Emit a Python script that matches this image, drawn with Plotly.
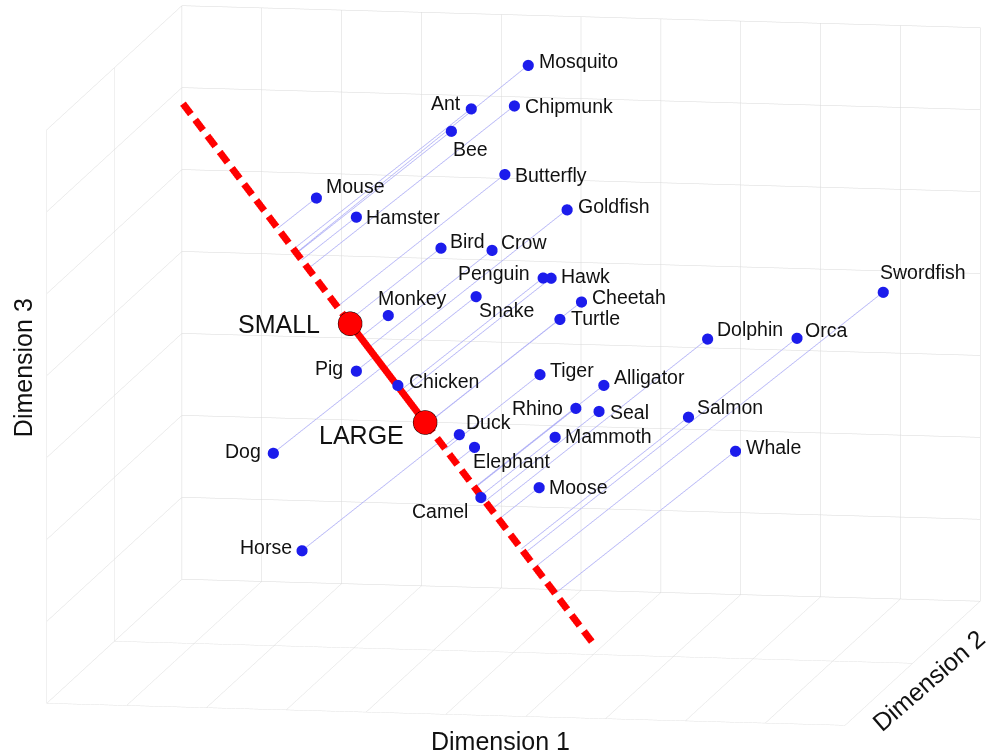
import numpy as np
import plotly.graph_objects as go

# ---- animals placed in the 3-D semantic space ----
animals = ["Mosquito", "Ant", "Chipmunk", "Bee", "Butterfly", "Mouse", "Hamster",
           "Goldfish", "Bird", "Crow", "Penguin", "Hawk", "Snake", "Cheetah",
           "Turtle", "Monkey", "Swordfish", "Dolphin", "Orca", "Pig", "Chicken",
           "Tiger", "Alligator", "Rhino", "Seal", "Salmon", "Duck", "Mammoth",
           "Elephant", "Whale", "Dog", "Moose", "Camel", "Horse"]
dim1 = [4.76, 4.47, 5.01, 4.22, 4.89, 2.53, 3.03, 5.67, 4.09, 4.73, 5.37, 5.47,
        4.53, 5.85, 5.58, 3.43, 9.63, 7.43, 8.55, 3.03, 3.55, 5.33, 6.13, 5.78,
        6.07, 7.19, 4.32, 5.52, 4.51, 7.78, 1.99, 5.32, 4.59, 2.35]
dim2 = [1.5, 1.0, 1.0, 1.0, 1.0, 1.0, 1.0, 1.0, 1.0, 1.0, 1.0, 1.0,
        1.0, 1.0, 1.0, 1.0, 1.0, 1.0, 1.0, 1.0, 1.0, 1.0, 1.0, 1.0,
        1.0, 1.0, 1.0, 1.0, 1.0, 1.0, 1.0, 1.0, 1.0, 1.0]
dim3 = [6.78, 6.62, 6.67, 6.34, 5.83, 5.48, 5.26, 5.42, 4.91, 4.90, 4.58, 4.58,
        4.33, 4.30, 4.08, 4.07, 4.52, 3.89, 3.93, 3.38, 3.22, 3.40, 3.29, 3.00,
        2.97, 2.93, 2.64, 2.64, 2.49, 2.53, 2.35, 2.02, 1.88, 1.17]

# label placement: anchor side, horizontal and vertical pixel offsets
label_side = ["left", "right", "left", "left", "left", "left", "left",
              "left", "left", "left", "right", "left", "left", "left",
              "left", "left", "left", "left", "left", "right", "left",
              "left", "left", "right", "left", "left", "left", "left",
              "left", "left", "right", "left", "right", "right"]
label_dx = [9, -8, 9, 0, 8, 8, 8, 9, 7, 7, -11, 8, 1, 9, 9, -12, -5, 8, 6,
            -11, 9, 8, 8, -11, 9, 7, 5, 8, -3, 9, -10, 8, -11, -8]
label_dy = [4, 6, 0, -18, -1, 12, 0, 4, 7, 8, 5, 2, -14, 5, 1, 17, 20, 10, 8,
            3, 4, 4, 8, 0, -1, 10, 12, 1, -14, 4, 2, 0, -14, 4]

# ---- the SMALL -> LARGE size axis ----
pole_names = ["SMALL", "LARGE"]
pole_dim1 = [2.95, 3.89]
pole_dim2 = [1.0, 1.0]
pole_dim3 = [3.96, 2.78]
pole_dx = [-28, -19]
pole_dy = [-1, -13]
axis_extent = [-2.23, 3.25]   # ends of the drawn axis, in SMALL->LARGE units

# dash styling for the axis beyond the poles (SMALL->LARGE units)
DASH_ON = 0.105
DASH_OFF = 0.058

# ---- scene geometry ----
x_range, y_range, z_range = [0, 10], [0, 2], [0, 7]
box_scale = 2.2167
aspect = np.array([1.0, 0.977, 0.717]) * box_scale
eye_dir = np.array([0.1685, -0.9727, 0.1591])
eye = 3.0 * eye_dir

# line-of-sight direction in data units: shifting along it leaves the
# orthographic image unchanged, so lines can sit just behind the markers
spans = np.array([x_range[1] - x_range[0], y_range[1] - y_range[0], z_range[1] - z_range[0]])
sight = eye_dir / (aspect / spans)
sight /= np.linalg.norm(sight)


def behind(p, amount):
    return np.asarray(p) - amount * sight


small = np.array([pole_dim1[0], pole_dim2[0], pole_dim3[0]])
large = np.array([pole_dim1[1], pole_dim2[1], pole_dim3[1]])
d = large - small


def along(s):
    return small + s * d


# dashes running outward from each pole to the ends of the axis
dash_x, dash_y, dash_z = [], [], []
for start, stop, sign in [(0.0, axis_extent[0], -1.0), (1.0, axis_extent[1], 1.0)]:
    s = start
    while (stop - s) * sign > 1e-9:
        e = s + sign * DASH_ON
        if (e - stop) * sign > 0:
            e = stop
        a, b = behind(along(s), 0.03), behind(along(e), 0.03)
        dash_x += [a[0], b[0], None]
        dash_y += [a[1], b[1], None]
        dash_z += [a[2], b[2], None]
        s = e + sign * DASH_OFF

solid_a, solid_b = behind(small, 0.03), behind(large, 0.03)

# orthogonal projection of every animal onto the size axis
pts = np.column_stack([dim1, dim2, dim3])
t = (pts - small) @ d / (d @ d)
feet = small + np.outer(t, d)

proj_x, proj_y, proj_z = [], [], []
for p, f in zip(pts, feet):
    a, b = behind(f, 0.06), behind(p, 0.06)
    proj_x += [a[0], b[0], None]
    proj_y += [a[1], b[1], None]
    proj_z += [a[2], b[2], None]

fig = go.Figure()

fig.add_trace(go.Scatter3d(
    x=proj_x, y=proj_y, z=proj_z, mode="lines",
    line=dict(color="rgb(178,178,246)", width=1.5),
    hoverinfo="skip", showlegend=False))

fig.add_trace(go.Scatter3d(
    x=dash_x, y=dash_y, z=dash_z,
    mode="lines", line=dict(color="#ff0000", width=14),
    hoverinfo="skip", showlegend=False))

fig.add_trace(go.Scatter3d(
    x=[solid_a[0], solid_b[0]], y=[solid_a[1], solid_b[1]], z=[solid_a[2], solid_b[2]],
    mode="lines", line=dict(color="#ff0000", width=14),
    hoverinfo="skip", showlegend=False))

fig.add_trace(go.Scatter3d(
    x=dim1, y=dim2, z=dim3, mode="markers", text=animals,
    marker=dict(size=6.5, color="rgb(28,28,236)", line=dict(width=0)),
    hoverinfo="text", showlegend=False))

fig.add_trace(go.Scatter3d(
    x=pole_dim1, y=pole_dim2, z=pole_dim3, mode="markers", text=pole_names,
    marker=dict(size=14, color="#ff0000", line=dict(color="#000000", width=1.5)),
    hoverinfo="text", showlegend=False))

font_family = "Liberation Sans, Arial, sans-serif"
label_font = dict(family=font_family, size=19.5, color="#111111")
annotations = []
for name, x, y, z, side, dx, dy in zip(animals, dim1, dim2, dim3,
                                       label_side, label_dx, label_dy):
    annotations.append(dict(x=x, y=y, z=z, text=name, showarrow=False,
                            xanchor=side, yanchor="middle", xshift=dx, yshift=dy,
                            font=label_font))
for name, x, y, z, dx, dy in zip(pole_names, pole_dim1, pole_dim2, pole_dim3,
                                 pole_dx, pole_dy):
    annotations.append(dict(x=x, y=y, z=z, text=name, showarrow=False,
                            xanchor="right", yanchor="middle", xshift=dx, yshift=dy,
                            font=dict(family=font_family, size=25, color="#111111")))

axis_style = dict(showticklabels=False, ticks="", title=dict(text=""),
                  gridcolor="#d8d8d8", gridwidth=1, showbackground=False,
                  zeroline=False, showspikes=False, showline=False,
                  autorange=False)

title_font = dict(family=font_family, size=25, color="#111111")

fig.update_layout(
    width=986, height=754, autosize=False,
    margin=dict(l=0, r=0, t=0, b=0),
    paper_bgcolor="white",
    scene=dict(
        domain=dict(x=[0.0415, 1.0], y=[0.0305, 1.0]),
        xaxis=dict(range=x_range, dtick=1, **axis_style),
        yaxis=dict(range=y_range, dtick=1, **axis_style),
        zaxis=dict(range=z_range, dtick=1, **axis_style),
        aspectmode="manual",
        aspectratio=dict(x=aspect[0], y=aspect[1], z=aspect[2]),
        camera=dict(eye=dict(x=eye[0], y=eye[1], z=eye[2]),
                    up=dict(x=0, y=0, z=1), center=dict(x=0, y=0, z=0),
                    projection=dict(type="orthographic")),
        annotations=annotations,
    ),
    annotations=[
        dict(text="Dimension 1", x=0.508, y=0.0172, xref="paper", yref="paper",
             xanchor="center", yanchor="middle", showarrow=False, font=title_font),
        dict(text="Dimension 3", x=0.0233, y=0.513, xref="paper", yref="paper",
             xanchor="center", yanchor="middle", showarrow=False, textangle=-90,
             font=title_font),
        dict(text="Dimension 2", x=0.942, y=0.098, xref="paper", yref="paper",
             xanchor="center", yanchor="middle", showarrow=False, textangle=-41,
             font=title_font),
    ],
)

fig.write_html("out.html", config=dict(displayModeBar=False))
